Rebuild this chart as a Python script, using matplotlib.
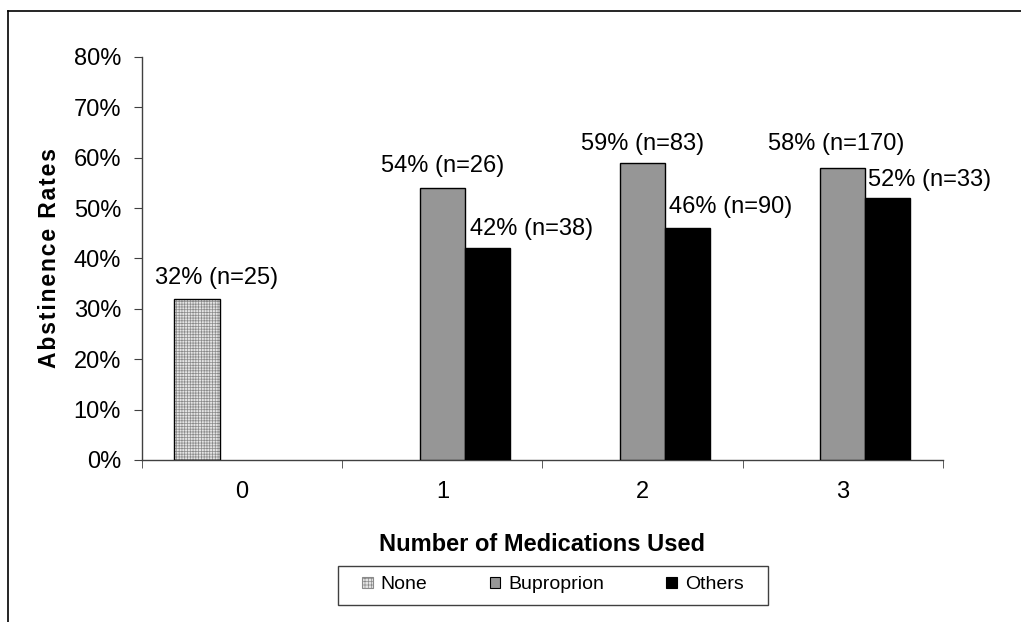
import numpy as np
import matplotlib.pyplot as plt
from matplotlib.patches import Patch, Rectangle
from matplotlib.lines import Line2D

plt.rcParams['font.family'] = ['Liberation Sans', 'DejaVu Sans']
plt.rcParams['hatch.linewidth'] = 0.5

# --- datos ---
categorias = ["0", "1", "2", "3"]
series = ["None", "Buproprion", "Others"]
none_vals = [32, None, None, None]
bup_vals = [None, 54, 59, 58]
otros_vals = [None, 42, 46, 52]
n_none = [25, None, None, None]
n_bup = [None, 26, 83, 170]
n_otros = [None, 38, 90, 33]

# desplazamiento de etiquetas (x en categorias, y en %)
lbl_dx = {"None": [0.10, 0, 0, 0],
          "Buproprion": [0, 0.0, 0.0, -0.035],
          "Others": [0, 0.22, 0.215, 0.21]}
lbl_dy = {"None": [4.1, 0, 0, 0],
          "Buproprion": [0, 4.4, 3.8, 4.7],
          "Others": [0, 3.8, 4.2, 3.6]}

FS = 17

fig = plt.figure(figsize=(10.21, 6.22), dpi=100)
ax = fig.add_axes([0.139, 0.2605, 0.7846, 0.648])

x = np.arange(len(categorias))
w = 0.225
offs = {"None": -w, "Buproprion": 0.0, "Others": w}
valores = {"None": none_vals, "Buproprion": bup_vals, "Others": otros_vals}
ns = {"None": n_none, "Buproprion": n_bup, "Others": n_otros}


def presentes(vals):
    idx = [i for i, v in enumerate(vals) if v is not None]
    return x[idx], [vals[i] for i in idx]


# None: relleno punteado
xs, vs = presentes(none_vals)
ax.bar(xs + offs["None"], vs, width=w, color="#e4e4e4", edgecolor="#8a8a8a",
       hatch="++++++", linewidth=0, zorder=2)
ax.bar(xs + offs["None"], vs, width=w, fill=False, edgecolor="black",
       linewidth=1.0, zorder=3)
xs, vs = presentes(bup_vals)
ax.bar(xs + offs["Buproprion"], vs, width=w, color="#969696", edgecolor="black",
       linewidth=1.0, zorder=3)
xs, vs = presentes(otros_vals)
ax.bar(xs + offs["Others"], vs, width=w, color="black", edgecolor="black",
       linewidth=1.0, zorder=3)

for s in series:
    for i, (v, n) in enumerate(zip(valores[s], ns[s])):
        if n is None:
            continue
        ax.text(x[i] + offs[s] + lbl_dx[s][i], v + lbl_dy[s][i], f"{v}% (n={n})",
                ha="center", va="center", fontsize=FS)

ax.set_xlim(-0.5, 3.5)
ax.set_ylim(0, 80)
ax.set_yticks(np.arange(0, 81, 10))
ax.set_yticklabels([f"{t}%" for t in range(0, 81, 10)], fontsize=FS)
ax.set_xticks(x)
ax.set_xticklabels(categorias, fontsize=FS)
ax.set_xticks(np.arange(-0.5, 3.6, 1), minor=True)
ax.tick_params(axis="x", which="major", length=0, pad=15)
ax.tick_params(axis="x", which="minor", length=6, direction="out", color="#404040")
ax.tick_params(axis="y", length=6, direction="out", pad=9, color="#404040")

for lado in ["top", "right"]:
    ax.spines[lado].set_visible(False)
for lado in ["left", "bottom"]:
    ax.spines[lado].set_color("#404040")
    ax.spines[lado].set_linewidth(1.0)

# titulo del eje y algo espaciado, como en el original
ylab = "\u200a".join("Abstinence Rates")
ax.set_xlabel("Number of Medications Used", fontsize=FS, fontweight="bold")
ax.set_ylabel(ylab, fontsize=16.5, fontweight="bold")
ax.xaxis.set_label_coords(0.5, -0.181)
ax.yaxis.set_label_coords(-0.1015, 0.5)

handles = [Patch(facecolor="#e4e4e4", edgecolor="#8a8a8a", hatch="+++++", linewidth=0.8),
           Patch(facecolor="#969696", edgecolor="black", linewidth=0.8),
           Patch(facecolor="black", edgecolor="black", linewidth=0.8)]
leg = fig.legend(handles, series, loc="center", bbox_to_anchor=(0.5416, 0.0595),
                 ncol=3, fontsize=14, frameon=False,
                 handlelength=0.55, handleheight=0.55, handletextpad=0.4,
                 columnspacing=3.2, borderpad=0.5)

# marco de la leyenda
fig.add_artist(Rectangle((338 / 1021, 1 - 605 / 622), 430 / 1021, 39 / 622,
                         transform=fig.transFigure, fill=False,
                         edgecolor="#404040", lw=1.0))

# borde exterior
fig.add_artist(Line2D([8 / 1021, 8 / 1021], [0, 1 - 11 / 622], transform=fig.transFigure,
                      color="black", lw=1.2))
fig.add_artist(Line2D([8 / 1021, 1], [1 - 11 / 622, 1 - 11 / 622], transform=fig.transFigure,
                      color="black", lw=1.2))

fig.savefig("out.png", dpi=100)
